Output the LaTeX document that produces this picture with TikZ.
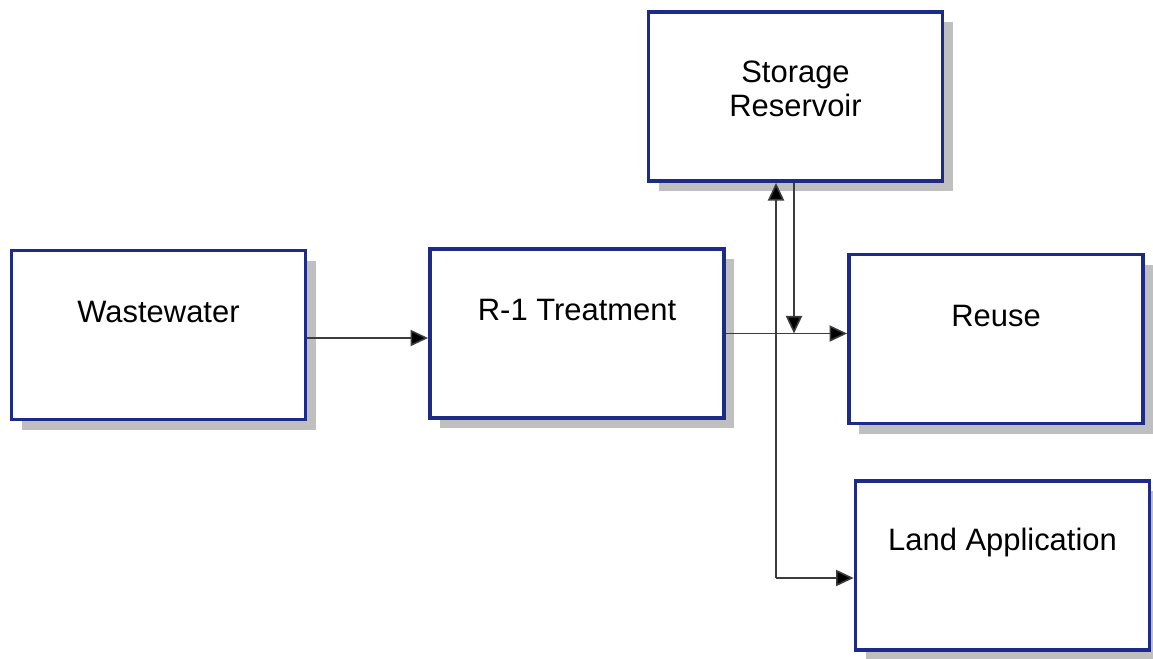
\documentclass[tikz,border=0pt]{standalone}
\usepackage{fontspec}
\setmainfont{Liberation Sans}
\usetikzlibrary{arrows.meta,shadows}
\definecolor{boxblue}{RGB}{30,42,135}
\definecolor{flowgray}{RGB}{60,60,60}
\begin{document}
\begin{tikzpicture}[font=\fontsize{8.8}{9.7}\selectfont,
    blockbox/.style={draw=boxblue,line width=1.1pt,fill=white,minimum width=2.94cm,minimum height=1.69cm,
      drop shadow={shadow xshift=0.1cm,shadow yshift=-0.1cm,fill=black!25,opacity=1}},
    blocktext/.style={anchor=center,align=center},
    flow/.style={draw=flowgray,line width=0.45pt,-{Triangle[length=5pt,width=4.6pt,fill=black]}}]
  \useasboundingbox (0,0) rectangle (11.53,6.58);
  \path node[blockbox] (ww) at (1.585,3.23) {}
     node[blockbox] (rone) at (5.77,3.245) {}
     node[blockbox] (store) at (7.955,5.615) {}
     node[blockbox] (reuse) at (9.96,3.19) {}
     node[blockbox] (land) at (10.025,0.925) {};
  \node[blocktext] at ([yshift=-0.63cm]ww.north) {Wastewater};
  \node[blocktext] at ([yshift=-0.63cm]rone.north) {R-1 Treatment};
  \node[blocktext] at ([yshift=-0.79cm]store.north) {Storage\\Reservoir};
  \node[blocktext] at ([yshift=-0.63cm]reuse.north) {Reuse};
  \node[blocktext] at ([yshift=-0.63cm]land.north) {Land Application};
  \coordinate (split) at (7.76,0.80);
  \draw[flow] ([yshift=-0.03cm]ww.east) -- ([yshift=-0.03cm]ww.east -| rone.west);
  \draw[flow] (rone.east) -- (rone.east -| reuse.west);
  \draw[flow] ([xshift=-0.015cm]store.south) -- ([xshift=-0.015cm]store.south |- rone.east);
  \draw[flow] (split) -- (split |- store.south);
  \draw[flow] (split) -- (split -| land.west);
\end{tikzpicture}
\end{document}
